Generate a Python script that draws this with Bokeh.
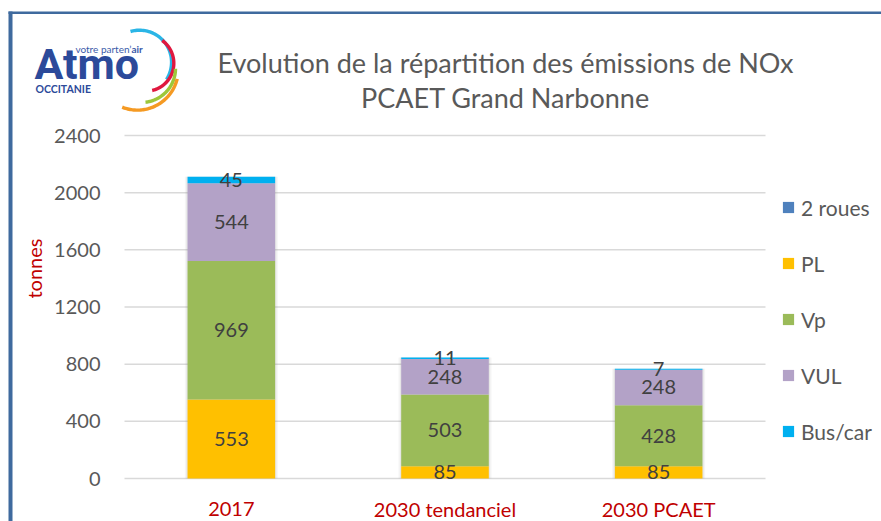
import numpy as np
from bokeh.plotting import figure
from bokeh.models import ColumnDataSource, Legend, LegendItem, Range1d
from bokeh.core.properties import value
from bokeh.embed import file_html
from bokeh.resources import INLINE

# ---------------- data ----------------
categories = ["2017", "2030 tendanciel", "2030 PCAET"]
deux_roues = [0, 0, 0]
pl = [553, 85, 85]
vp = [969, 503, 428]
vul = [544, 248, 248]
bus_car = [45, 11, 7]
series_names = ["2 roues", "PL", "Vp", "VUL", "Bus/car"]
series_keys = ["deux_roues", "pl", "vp", "vul", "bus_car"]
series_colors = ["#4F81BD", "#FFC000", "#9BBB59", "#B3A2C7", "#00B0F0"]
y_ticks = [0, 400, 800, 1200, 1600, 2000, 2400]
title_lines = ["Evolution de la répartition des émissions de NOx", "PCAET Grand Narbonne"]
y_label = "tonnes"

# ---------------- layout (canvas px) ----------------
W, H = 881, 521
FL, FT, FR, FB = 124, 135, 765, 478   # plot-area edges
YMAX = 2400
FONT = "Lato"

KX = (FR - FL) / len(categories)      # px per category
KY = (FB - FT) / YMAX                 # px per tonne

p = figure(width=W, height=H, x_range=Range1d(0, W), y_range=Range1d(H, 0),
           x_axis_type=None, y_axis_type=None, min_border=0,
           output_backend="svg", toolbar_location=None)
p.outline_line_color = None
p.background_fill_color = "white"
p.border_fill_color = "white"
p.extra_x_ranges = {"cat": Range1d(-FL / KX, (W - FL) / KX)}
p.extra_y_ranges = {"t": Range1d(-(H - FB) / KY, FB / KY)}

xpos = [i + 0.5 for i in range(len(categories))]
src = ColumnDataSource(dict(x=xpos, deux_roues=deux_roues, pl=pl, vp=vp,
                            vul=vul, bus_car=bus_car))
totals = [sum(v) for v in zip(deux_roues, pl, vp, vul, bus_car)]

# gridlines (value axis)
p.segment(x0=[0] * len(y_ticks), x1=[len(categories)] * len(y_ticks), y0=y_ticks, y1=y_ticks,
          line_color="#D9D9D9", line_width=1.5, x_range_name="cat", y_range_name="t")
# tick labels
p.text(x=[FL - 24] * len(y_ticks), y=y_ticks, text=[str(t) for t in y_ticks],
       y_range_name="t", text_align="right", text_baseline="middle",
       text_font=value(FONT), text_font_size="20px", text_color="#595959")
# category labels
p.text(x=xpos, y=[508] * len(categories), text=categories, x_range_name="cat",
       text_align="center", text_baseline="middle",
       text_font=value(FONT), text_font_size="20px", text_color="#C00000")

# soft shadow
p.vbar(x=xpos, top=totals, width=0.435, color="#7F7F7F", alpha=0.08, line_color=None,
       x_range_name="cat", y_range_name="t")
p.vbar(x=xpos, top=totals, width=0.422, color="#7F7F7F", alpha=0.12, line_color=None,
       x_range_name="cat", y_range_name="t")

renderers = p.vbar_stack(series_keys, x="x", width=0.41, color=series_colors,
                         source=src, line_color=None, x_range_name="cat", y_range_name="t")

# value labels
lx, ly, lt = [], [], []
series_vals = [deux_roues, pl, vp, vul, bus_car]
for i in range(len(categories)):
    base = 0
    for vals in series_vals:
        v = vals[i]
        if v > 0:
            lx.append(xpos[i])
            ly.append(base + v / 2)
            lt.append(str(v))
        base += v
p.text(x=lx, y=ly, text=lt, text_align="center", text_baseline="middle",
       x_range_name="cat", y_range_name="t",
       text_font=value(FONT), text_font_size="20px", text_color="#404040")

# legend
items = [LegendItem(label=n, renderers=[r]) for n, r in zip(series_names, renderers)]
legend = Legend(items=items, location=(781, H - 444), glyph_width=14, glyph_height=14,
                label_standoff=6, spacing=30, label_height=26, padding=0, margin=0,
                border_line_color=None, background_fill_alpha=0,
                label_text_font=FONT, label_text_font_size="21px",
                label_text_color="#595959")
p.add_layout(legend)

# title
p.text(x=[505, 505], y=[61.5, 96.5], text=title_lines, text_align="center",
       text_baseline="middle", text_font=value(FONT), text_font_size="27px",
       text_color="#595959")

# y label
p.text(x=[33], y=[268], text=[y_label], angle=np.pi / 2, text_align="center",
       text_baseline="middle", text_font=value(FONT), text_font_size="20px",
       text_color="#C00000")

# frame border
p.quad(left=[8, 8], right=[W, 12], top=[11, 11], bottom=[13.5, H],
       color="#3F6A9E", line_color=None)

# logo
LOGO_BLUE = "#2C4A9A"
p.text(x=[34], y=[63], text=["Atmo"], text_align="left", text_baseline="middle",
       text_font=value("Roboto"), text_font_style="bold", text_font_size="43px",
       text_color=LOGO_BLUE)
p.text(x=[35], y=[88], text=["OCCITANIE"], text_align="left", text_baseline="middle",
       text_font=value(FONT), text_font_style="bold", text_font_size="10.5px",
       text_color=LOGO_BLUE)
p.text(x=[131], y=[48], text=["votre parten’"], text_align="right", text_baseline="middle",
       text_font=value(FONT), text_font_size="10px", text_color="#3B5BA9")
p.text(x=[131], y=[48], text=["air"], text_align="left", text_baseline="middle",
       text_font=value(FONT), text_font_style="bold", text_font_size="10px",
       text_color="#3B5BA9")


def circ3(a, b, c):
    (x1, y1), (x2, y2), (x3, y3) = a, b, c
    A = np.array([[x2 - x1, y2 - y1], [x3 - x2, y3 - y2]], dtype=float)
    B = 0.5 * np.array([x2**2 - x1**2 + y2**2 - y1**2, x3**2 - x2**2 + y3**2 - y2**2])
    cx, cy = np.linalg.solve(A, B)
    return cx, cy, np.hypot(x1 - cx, y1 - cy)


arc_xs, arc_ys = [], []


def arc(pts, w=3.4):
    cx, cy, r = circ3(*pts)
    ang = [np.arctan2(y - cy, x - cx) for x, y in pts]
    d13 = (ang[2] - ang[0]) % (2 * np.pi)
    d12 = (ang[1] - ang[0]) % (2 * np.pi)
    span = d13 if d12 < d13 else d13 - 2 * np.pi
    t = ang[0] + np.linspace(0, span, 60)
    ro, ri = r + w / 2, r - w / 2
    arc_xs.append(list(cx + ro * np.cos(t)) + list(cx + ri * np.cos(t[::-1])))
    arc_ys.append(list(cy + ro * np.sin(t)) + list(cy + ri * np.sin(t[::-1])))


arc([(130, 31), (171, 60), (166, 79)])
arc([(161.7, 40), (173.3, 61.7), (151.7, 90)])
arc([(175, 68.3), (168.3, 88.3), (145, 101.7)])
arc([(176.7, 78.3), (163.3, 100), (121.7, 106.7)])
p.patches(xs=arc_xs, ys=arc_ys, fill_color=["#2AB5E6", "#E0183F", "#9DC73A", "#F59A23"],
          line_color=None)

open("out.html", "w").write(file_html(p, INLINE))
